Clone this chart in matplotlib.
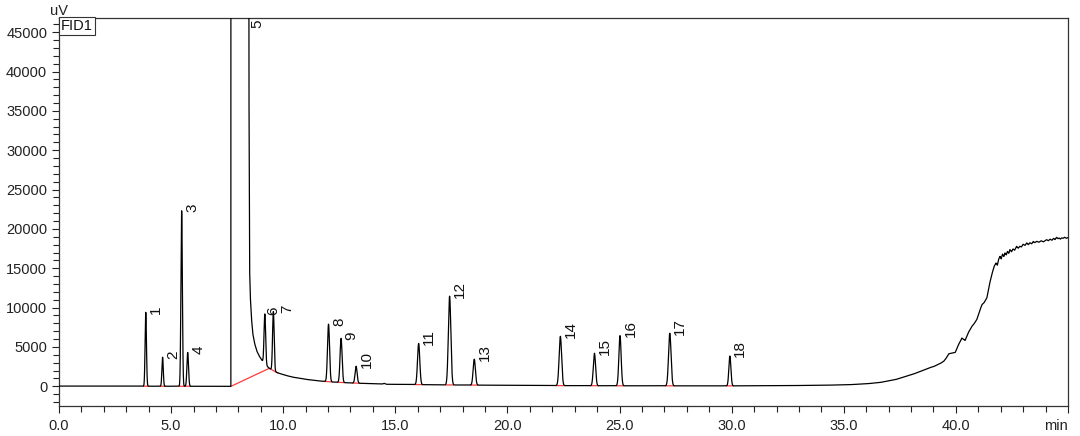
import numpy as np
import matplotlib
matplotlib.use("Agg")
import matplotlib.pyplot as plt
from matplotlib.ticker import MultipleLocator, FixedLocator

# ---------------- data ----------------
peak_labels = ["1", "2", "3", "4", "6", "7", "8", "9", "10", "11", "12",
               "13", "14", "15", "16", "17", "18"]
peak_times = [3.87, 4.62, 5.47, 5.74, 9.18, 9.56, 12.02, 12.58, 13.25, 16.04,
              17.42, 18.52, 22.36, 23.88, 25.02, 27.24, 29.92]
peak_apex = [9400, 3700, 22300, 4300, 9200, 9500, 7900, 6100, 2550, 5450,
             11450, 3450, 6350, 4200, 6450, 6750, 3850]
peak_widths = [0.030, 0.030, 0.032, 0.035, 0.035, 0.035, 0.045, 0.045, 0.045,
               0.050, 0.055, 0.050, 0.055, 0.050, 0.050, 0.055, 0.045]

# baseline trace incl. the off-scale solvent peak (5) and the late drift
base_t = [0.0, 3.0, 7.60, 7.665, 7.675, 8.455, 8.47, 8.50, 8.53, 8.58, 8.64,
          8.72, 8.82, 8.92, 9.05, 9.23, 9.38, 9.60, 9.82, 10.1, 10.4, 11.0,
          11.6, 12.2, 13.0, 14.0, 14.4, 14.5, 14.6, 15.0, 16.0, 17.2, 20.0,
          22.3, 25.0, 28.0, 30.0, 32.0, 34.0, 35.2, 36.0, 36.6, 37.3, 38.1,
          38.86, 39.0, 39.3, 39.45, 39.55, 39.68, 39.80, 39.97, 40.10, 40.27,
          40.41, 40.55, 40.71, 40.80, 40.93, 41.05, 41.16, 41.25, 41.38,
          41.50, 41.60, 41.70, 41.79, 41.85, 41.90, 41.97, 42.02, 42.08,
          42.14, 42.19, 42.25, 42.30, 42.36, 42.41, 42.48, 42.55, 42.62,
          42.71, 42.78, 42.85, 42.92, 43.00, 43.08, 43.16, 43.23, 43.30,
          43.38, 43.45, 43.52, 43.60, 43.70, 43.80, 43.90, 44.04, 44.12,
          44.20, 44.28, 44.35, 44.42, 44.49, 44.55, 44.60, 44.66, 44.71,
          44.78, 44.85, 44.92, 45.0]
base_v = [30, 20, 0, 0, 400000, 400000, 40000, 15000, 11500, 8800, 6740,
          5500, 4500, 3900, 3300, 2670, 2290, 1900, 1650, 1400, 1180, 890,
          680, 550, 430, 330, 280, 380, 260, 260, 220, 180, 130,
          90, 70, 60, 60, 80, 130, 200, 320, 480, 850, 1550,
          2400, 2500, 2900, 3160, 3500, 4130, 4200, 4300, 5200, 6130,
          5830, 6800, 7610, 7900, 8460, 9500, 10370, 10600, 11220,
          13000, 14190, 15200, 15670, 15400, 16100, 16520, 16200, 16800,
          16500, 16950, 16700, 17150, 16900, 17370, 17100, 17450, 17300,
          17790, 17550, 17800, 17700, 18050, 17900, 18220, 18000, 18250,
          18100, 18400, 18250, 18430, 18300, 18500, 18350, 18640, 18500,
          18700, 18550, 18800, 18650, 18930, 18750, 18850, 18700, 18860,
          18800, 18950, 18800, 18900]

# integration baseline drawn under the solvent peak group 5-7
group_base_t = [7.67, 9.38, 9.75]
group_base_v = [0, 2290, 1700]

solvent_label = "5"
solvent_label_t = 8.47

x_major = [0, 5, 10, 15, 20, 25, 30, 35, 40, 45]
x_labels = ["0.0", "5.0", "10.0", "15.0", "20.0", "25.0", "30.0", "35.0", "40.0", "min"]

# ---------------- build signal ----------------
t = np.linspace(0, 45, 45001)
sig = np.interp(t, base_t, base_v)
for tp, h, w in zip(peak_times, peak_apex, peak_widths):
    amp = h - np.interp(tp, base_t, base_v)
    sig = sig + amp * np.exp(-0.5 * ((t - tp) / w) ** 2)

plt.rcParams['font.family'] = ['Liberation Sans', 'DejaVu Sans']

fig = plt.figure(figsize=(10.8, 4.36), dpi=100)
ax = fig.add_axes([59 / 1080, 1 - 406 / 436, (1068 - 59) / 1080, (406 - 18) / 436])

ax.plot(t, sig, color='black', lw=0.9, zorder=3)

# red integration baselines
red = '#ff3b3b'
for tp, w in zip(peak_times[:4] + peak_times[6:], peak_widths[:4] + peak_widths[6:]):
    a, b = tp - 3.2 * w, tp + 3.2 * w
    ax.plot([a, b], [np.interp(a, base_t, base_v), np.interp(b, base_t, base_v)],
            color=red, lw=0.9, zorder=2)
ax.plot(group_base_t, group_base_v, color=red, lw=0.9, zorder=2)

# peak labels
label_dx = {"6": 1.2, "7": 5.0}
for lab, tp, h in zip(peak_labels, peak_times, peak_apex):
    dx = label_dx.get(lab, 2.5)
    ax.annotate(lab, xy=(tp, h), xytext=(dx, -1), textcoords='offset points',
                rotation=90, ha='left', va='bottom', fontsize=11, color='#111')
ax.annotate(solvent_label, xy=(solvent_label_t, 46800), xytext=(1, -1),
            textcoords='offset points', rotation=90, ha='left', va='top',
            fontsize=11, color='#111')

ax.set_xlim(0, 45)
ax.set_ylim(-2500, 46800)
ax.xaxis.set_major_locator(FixedLocator(x_major))
ax.set_xticklabels(x_labels)
ax.xaxis.set_minor_locator(MultipleLocator(1))
ax.yaxis.set_major_locator(MultipleLocator(5000))
ax.yaxis.set_minor_locator(MultipleLocator(1000))
ax.tick_params(axis='both', which='major', direction='out', length=5, width=0.8,
               labelsize=10.5, colors='#222')
ax.tick_params(axis='both', which='minor', direction='out', length=4, width=0.8,
               colors='#222')
ax.tick_params(axis='x', pad=4)
ax.get_xticklabels()[-1].set_ha('right')

for s in ax.spines.values():
    s.set_color('#333')
    s.set_linewidth(0.9)

ax.text(0.0, 1.0, 'uV', transform=ax.transAxes, ha='center', va='bottom',
        fontsize=10.5, color='#222')
ax.text(0.002, 0.997, 'FID1', transform=ax.transAxes, ha='left', va='top',
        fontsize=10.5, color='#111',
        bbox=dict(boxstyle='square,pad=0.12', fc='white', ec='#333', lw=0.8))

fig.savefig('out.png', dpi=100)
